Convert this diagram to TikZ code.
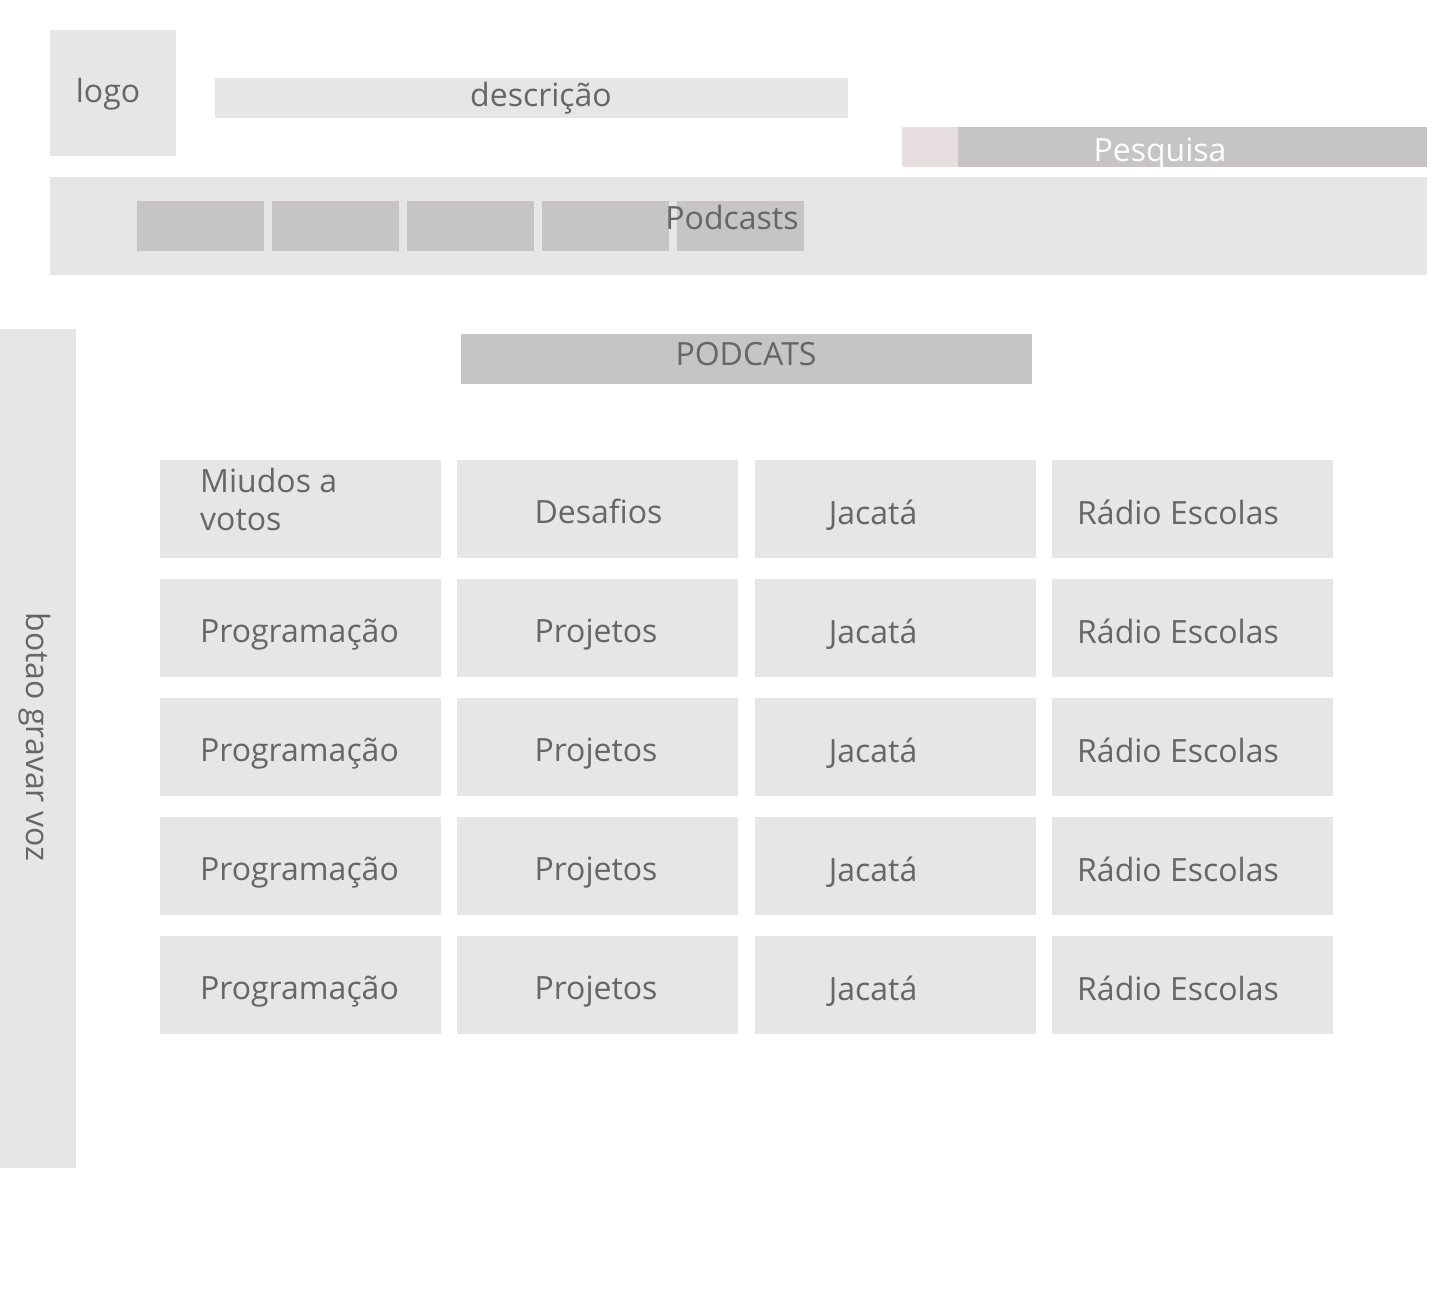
\documentclass[tikz,border=0pt]{standalone}
\usepackage{fontspec}
\setmainfont{Open Sans}
\usetikzlibrary{positioning}

\definecolor{boxgrey}{HTML}{E6E6E6}
\definecolor{bargrey}{HTML}{C6C4C5}
\definecolor{pinkgrey}{HTML}{E6DEDF}
\definecolor{txtgrey}{HTML}{666666}

\tikzset{
  lightbox/.style={fill=boxgrey,inner sep=0pt,outer sep=0pt,anchor=north west},
  darkbox/.style={fill=bargrey,inner sep=0pt,outer sep=0pt,anchor=north west},
  navbtn/.style={darkbox,minimum width=127pt,minimum height=50pt},
  cell/.style={lightbox,minimum width=281pt,minimum height=98pt},
  txt/.style={inner sep=0pt,text=txtgrey,font=\fontsize{32}{38}\selectfont},
  celltxt/.style={txt,anchor=base west}
}

\begin{document}
\begin{tikzpicture}[x=1pt,y=-1pt]
      \useasboundingbox (0,0) rectangle (1447,1289);

      % header
      \node[lightbox,minimum width=126pt,minimum height=126pt] (logo) at (50,30) {};
      \node[txt] (logotxt) at (108,94) {logo};
      \node[lightbox,minimum width=633pt,minimum height=40pt] (desc) at (215,78) {};
      \node[txt] (desctxt) at (541,98) {descrição};

      % search
      \node[fill=pinkgrey,inner sep=0pt,outer sep=0pt,anchor=north west,minimum width=56pt,minimum height=40pt] (searchicon) at (902,127) {};
      \node[darkbox,minimum width=469pt,minimum height=40pt,right=0pt of searchicon] (search) {};
      \node[txt,text=white] (searchtxt) at (1160,154) {Pesquisa};

      % menu
      \node[lightbox,minimum width=1377pt,minimum height=98pt] (menu) at (50,177) {};
      \node[navbtn] (nav1) at (137,201) {};
      \node[navbtn,right=8pt of nav1] (nav2) {};
      \node[navbtn,right=8pt of nav2] (nav3) {};
      \node[navbtn,right=8pt of nav3] (nav4) {};
      \node[navbtn,right=8pt of nav4] (nav5) {};
      \node[txt] (navtxt) at (732,218) {Podcasts};

      % record
      \node[lightbox,minimum width=76pt,minimum height=839pt] (rec) at (0,329) {};
      \node[txt,rotate=-90] (rectxt) at (35,737) {botao gravar voz};

      % title
      \node[darkbox,minimum width=571pt,minimum height=50pt] (title) at (461,334) {};
      \node[txt] (titletxt) at (746,354) {PODCATS};

      % grid
      \node[cell] (c11) at (160,460) {};
      \node[cell,right=16.33pt of c11] (c12) {};
      \node[cell,right=16.33pt of c12] (c13) {};
      \node[cell,right=16.33pt of c13] (c14) {};
      \node[txt,align=left,right=40pt of c11.west,yshift=10pt] (t11) {Miudos a\\votos};
      \node[celltxt] (t12) at ([shift={(77,14)}]c12.west) {Desafios};
      \node[celltxt] (t13) at ([shift={(74,15)}]c13.west) {Jacatá};
      \node[celltxt] (t14) at ([shift={(25,15)}]c14.west) {Rádio Escolas};

      \foreach \r/\y in {2/579,3/698,4/817,5/936} {
        \node[cell] (c\r1) at (160,\y) {};
        \node[cell,right=16.33pt of c\r1] (c\r2) {};
        \node[cell,right=16.33pt of c\r2] (c\r3) {};
        \node[cell,right=16.33pt of c\r3] (c\r4) {};
        \node[celltxt] (t\r1) at ([shift={(40,14)}]c\r1.west) {Programação};
        \node[celltxt] (t\r2) at ([shift={(77,14)}]c\r2.west) {Projetos};
        \node[celltxt] (t\r3) at ([shift={(74,15)}]c\r3.west) {Jacatá};
        \node[celltxt] (t\r4) at ([shift={(25,15)}]c\r4.west) {Rádio Escolas};
      }
    \end{tikzpicture}
\end{document}
